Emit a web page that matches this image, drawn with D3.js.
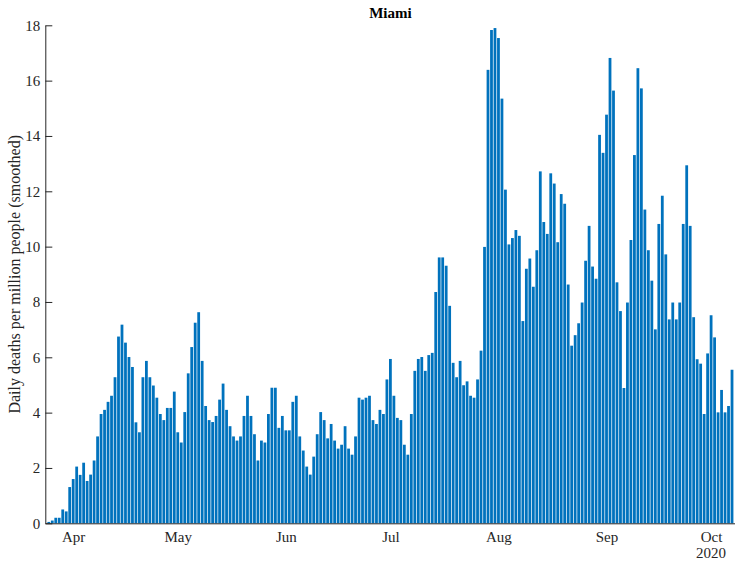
<!DOCTYPE html>
<html lang="en">
<head>
    <meta charset="UTF-8">
    <script src="https://d3js.org/d3.v7.min.js"></script>
    <style>
        body {
            margin: 0;
            background: #fff;
        }

        text {
            font-family: "Liberation Serif", "DejaVu Serif", serif;
            fill: #262626;
        }

        .axis path,
        .axis line {
            stroke: #262626;
            stroke-width: 1px;
        }

        .axis text {
            font-size: 15px;
        }
    </style>
</head>
<body>
    <svg id="chart" width="735" height="561"></svg>

    <script>
        // first day shown and the daily values (deaths per million, smoothed)
        const firstDay = new Date(2020, 2, 25);

        const deaths = [
            0.05, 0.1, 0.2, 0.2, 0.5, 0.43, 1.31, 1.6, 2.05, 1.75, 2.19, 1.53, 1.76, 2.27, 3.14, 3.95,
            4.1, 4.39, 4.61, 5.28, 6.75, 7.18, 6.53, 6.01, 5.65, 3.65, 3.29, 5.28, 5.87, 5.28, 4.98, 4.54,
            3.95, 3.73, 4.17, 4.17, 4.76, 3.29, 2.92, 4.02, 5.42, 6.37, 7.25, 7.63, 5.87, 4.24, 3.73, 3.66,
            3.88, 4.47, 5.05, 4.1, 3.51, 3.14, 2.99, 3.14, 3.88, 4.61, 3.88, 3.22, 2.27, 2.99, 2.92, 3.95,
            4.9, 4.9, 3.45, 3.88, 3.36, 3.36, 4.39, 4.61, 3.14, 2.63, 2.05, 1.76, 2.41, 3.22, 4.02, 3.73,
            3.07, 3.59, 2.99, 2.7, 2.84, 3.51, 2.7, 2.48, 3.14, 4.54, 4.47, 4.54, 4.61, 3.73, 3.59, 4.1,
            3.95, 5.2, 5.94, 4.61, 3.81, 3.73, 2.84, 2.48, 3.95, 5.51, 5.94, 6.01, 5.51, 6.08, 6.16, 8.36,
            9.61, 9.61, 9.31, 7.86, 5.8, 5.28, 5.87, 4.99, 5.13, 4.61, 4.54, 5.2, 6.24, 9.99,
            16.39, 17.83, 17.9, 17.54, 15.35, 12.06, 10.08, 10.31, 10.6, 10.39, 7.31, 9.2, 9.57, 8.55,
            9.87, 12.72, 10.89, 10.46, 12.65, 12.28, 10.16, 11.9, 11.55, 8.63, 6.42, 6.8, 7.23, 7.98,
            9.49, 10.75, 9.28, 8.84,
            14.04, 13.39, 14.77, 16.82, 15.64, 8.71, 7.67, 4.89, 7.98, 10.24, 13.31, 16.45, 15.72, 11.34,
            9.87, 8.77, 7.01, 10.82, 11.84, 9.72, 7.37, 7.98, 7.37, 7.98, 10.82, 12.94, 10.75, 7.45,
            5.93, 5.77, 3.95, 6.14, 7.52, 6.72, 4.01, 4.82, 4.01, 4.24, 5.55
        ];

        const monthTicks = ["Apr", "May", "Jun", "Jul", "Aug", "Sep", "Oct"];
        const yearLabel = "2020";
        const yTicks = [0, 2, 4, 6, 8, 10, 12, 14, 16, 18];

        const data = deaths.map((v, i) => ({
            day: d3.timeDay.offset(firstDay, i),
            value: v
        }));

        const plotLeft = 45.3, plotRight = 735.5, plotTop = 25.3, plotBottom = 523.3;

        const svg = d3.select("#chart");

        const x = d3.scaleTime()
            .domain([new Date(2020, 2, 24), new Date(2020, 9, 8)])
            .range([plotLeft, plotRight]);

        const y = d3.scaleLinear()
            .domain([0, 18])
            .range([plotBottom, plotTop]);

        const dayWidth = x(new Date(2020, 3, 2)) - x(new Date(2020, 3, 1));
        const barWidth = dayWidth * 0.8;

        const monthDates = monthTicks.map((m, i) => new Date(2020, 3 + i, 1));

        const xAxis = svg.append("g")
            .attr("class", "axis")
            .attr("transform", `translate(0,${plotBottom})`)
            .call(d3.axisBottom(x)
                .tickValues(monthDates)
                .tickFormat((d, i) => monthTicks[i])
                .tickSizeInner(-7)
                .tickSizeOuter(0)
                .tickPadding(8));

        const yAxis = svg.append("g")
            .attr("class", "axis")
            .attr("transform", `translate(${plotLeft},0)`)
            .call(d3.axisLeft(y)
                .tickValues(yTicks)
                .tickSizeInner(-7)
                .tickSizeOuter(0)
                .tickPadding(5));

        svg.selectAll(".bar")
            .data(data)
            .enter().append("rect")
            .attr("class", "bar")
            .attr("x", d => x(d.day) - barWidth / 2)
            .attr("y", d => y(d.value))
            .attr("width", barWidth)
            .attr("height", d => y(0) - y(d.value))
            .attr("fill", "#0072BD");

        // axis lines drawn over the bars, x ticks stay under them
        xAxis.raise();
        xAxis.selectAll(".tick line").remove();
        yAxis.raise();

        svg.append("text")
            .attr("x", x(monthDates[monthDates.length - 1]))
            .attr("y", 558)
            .attr("text-anchor", "middle")
            .style("font-size", "15px")
            .text(yearLabel);

        svg.append("text")
            .attr("x", (plotLeft + plotRight) / 2)
            .attr("y", 18)
            .attr("text-anchor", "middle")
            .style("font-size", "15px")
            .style("font-weight", "bold")
            .style("fill", "#000")
            .text("Miami");

        svg.append("text")
            .attr("transform", `translate(20,${(plotTop + plotBottom) / 2}) rotate(-90)`)
            .attr("text-anchor", "middle")
            .style("font-size", "16px")
            .text("Daily deaths per million people (smoothed)");
    </script>
</body>
</html>
